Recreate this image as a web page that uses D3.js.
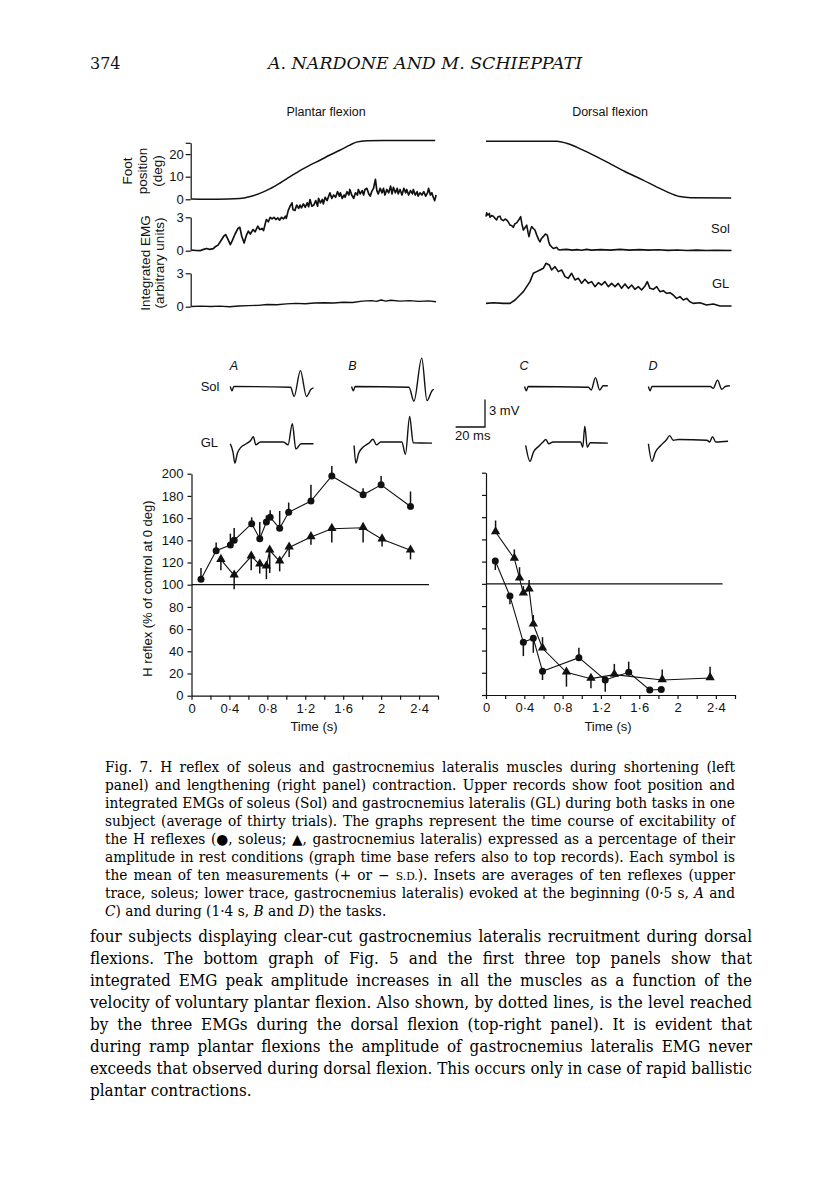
<!DOCTYPE html>
<html><head><meta charset="utf-8">
<script src="https://cdn.jsdelivr.net/npm/d3@7"></script>
<style>body{margin:0;background:#fff}svg{display:block}</style>
</head><body>
<svg id="c" width="816" height="1203"></svg>
<script>
// ---------------- DATA ----------------
const timeTicks = [0,0.2,0.4,0.6,0.8,1.0,1.2,1.4,1.6,1.8,2.0,2.2,2.4,2.6];
const timeTickLabels = {"0":"0","0.4":"0·4","0.8":"0·8","1.2":"1·2","1.6":"1·6","2":"2","2.4":"2·4"};
const hTicks = [0,20,40,60,80,100,120,140,160,180,200];
const posTicks = [0,10,20];
const emgTicks = [0,3];

// top records: [time (s), value]
const footPlantar = [[0,0.15],[0.27,0],[0.51,0.3],[0.62,1.2],[0.72,2.6],[0.83,4.7],[0.93,7.1],[1.04,10],[1.14,12.6],[1.25,15.1],[1.36,17.4],[1.46,19.6],[1.57,21.8],[1.67,24],[1.74,25.3],[1.85,25.9],[2.02,26],[2.57,26]];
const solPlantar = [[0.00,0.05],[0.05,0.02],[0.09,0.0],[0.12,0.1],[0.16,0.2],[0.19,0.12],[0.23,0.18],[0.25,0.35],[0.28,0.5],[0.31,0.9],[0.34,1.3],[0.36,1.45],[0.38,1.1],[0.41,0.55],[0.43,0.9],[0.46,1.5],[0.49,2.0],[0.51,2.1],[0.53,1.3],[0.555,0.7],[0.58,1.4],[0.60,1.75],[0.62,1.5],[0.65,1.9],[0.67,1.7],[0.70,2.2],[0.72,1.9],[0.745,2.0],[0.76,1.8],[0.78,2.5],[0.79,2.8],[0.81,2.6],[0.83,3.0],[0.85,2.85],[0.87,3.0],[0.89,2.8],[0.91,2.95],[0.93,2.75],[0.95,3.0],[0.97,2.85],[0.99,3.1],[1.00,2.9],[1.02,3.6],[1.04,4.0],[1.06,4.3],[1.07,3.7],[1.09,3.6],[1.11,4.1],[1.13,3.8],[1.145,4.1],[1.16,3.85],[1.18,4.2],[1.20,3.9],[1.22,4.3],[1.235,3.95],[1.25,4.6],[1.27,4.0],[1.29,4.1],[1.31,4.5],[1.33,4.0],[1.34,4.7],[1.36,4.3],[1.38,4.6],[1.39,4.2],[1.41,4.8],[1.43,4.5],[1.46,5.2],[1.48,4.7],[1.50,5.0],[1.52,4.8],[1.54,5.3],[1.56,4.9],[1.57,5.2],[1.59,4.7],[1.61,5.0],[1.62,4.8],[1.64,5.3],[1.66,5.0],[1.67,5.5],[1.69,5.0],[1.71,4.7],[1.73,5.2],[1.75,5.0],[1.76,5.5],[1.78,5.1],[1.80,5.4],[1.815,5.0],[1.83,5.5],[1.85,5.6],[1.87,5.1],[1.885,4.9],[1.90,5.3],[1.92,5.6],[1.94,6.4],[1.955,5.4],[1.97,5.1],[1.99,5.6],[2.01,5.2],[2.025,5.6],[2.04,5.0],[2.06,5.5],[2.08,5.2],[2.10,5.8],[2.115,5.1],[2.13,5.7],[2.15,5.2],[2.17,5.6],[2.18,5.1],[2.20,5.5],[2.22,5.0],[2.24,5.6],[2.26,5.2],[2.27,5.5],[2.29,5.0],[2.31,5.4],[2.33,5.1],[2.34,5.5],[2.36,5.0],[2.38,5.3],[2.39,4.9],[2.41,5.2],[2.43,5.0],[2.45,5.3],[2.47,4.9],[2.49,5.2],[2.50,5.6],[2.52,5.0],[2.535,5.2],[2.55,4.8],[2.565,4.5],[2.58,5.0]];
const glPlantar = [[0,0.02],[0.1,0.05],[0.2,0.02],[0.3,0.05],[0.4,0.0],[0.5,0.06],[0.6,0.1],[0.7,0.12],[0.8,0.2],[0.9,0.18],[1.0,0.25],[1.1,0.3],[1.2,0.27],[1.3,0.33],[1.4,0.36],[1.5,0.33],[1.6,0.4],[1.7,0.38],[1.8,0.5],[1.9,0.55],[1.95,0.48],[2.0,0.6],[2.05,0.5],[2.1,0.58],[2.2,0.5],[2.3,0.55],[2.4,0.48],[2.5,0.52],[2.58,0.45]];

const footDorsal = [[0,25.7],[0.74,25.7],[0.84,24.8],[0.95,23],[1.1,20],[1.29,15.9],[1.45,12.3],[1.64,8.5],[1.79,5.3],[1.886,3.4],[2.025,1.2],[2.14,0.7],[2.56,0.6]];
const solDorsal = [[0.0,3.06],[0.007,3.4],[0.02,3.2],[0.035,3.35],[0.042,3.0],[0.06,3.15],[0.077,3.1],[0.09,2.95],[0.111,2.76],[0.125,3.05],[0.146,3.1],[0.16,2.8],[0.181,2.7],[0.2,2.85],[0.216,2.76],[0.235,2.55],[0.251,2.3],[0.27,2.25],[0.285,2.1],[0.30,2.4],[0.32,2.5],[0.345,2.8],[0.362,3.06],[0.375,2.4],[0.39,1.86],[0.41,2.1],[0.425,2.3],[0.44,1.6],[0.449,1.26],[0.465,1.9],[0.477,2.16],[0.495,2.0],[0.511,1.86],[0.53,1.4],[0.55,1.0],[0.564,0.8],[0.58,1.1],[0.598,1.26],[0.62,1.5],[0.64,1.4],[0.655,0.8],[0.668,0.5],[0.685,0.35],[0.703,0.2],[0.72,0.25],[0.738,0.3],[0.755,0.1],[0.772,0.06],[0.80,0.1],[0.842,0.12],[0.9,0.05],[0.95,0.1],[1.0,0.04],[1.05,0.12],[1.1,0.05],[1.2,0.1],[1.3,0.05],[1.4,0.12],[1.5,0.05],[1.6,0.1],[1.7,0.05],[1.8,0.08],[1.9,0.03],[2.0,0.06],[2.1,0.02],[2.2,0.05],[2.3,0.02],[2.4,0.04],[2.564,0.02]];
const glDorsal = [[0,0.3],[0.077,0.36],[0.181,0.3],[0.251,0.3],[0.303,0.6],[0.355,1.05],[0.39,1.35],[0.425,1.8],[0.459,2.25],[0.494,3.0],[0.529,3.15],[0.564,3.3],[0.598,3.45],[0.626,3.9],[0.661,3.75],[0.685,3.3],[0.72,3.6],[0.755,3.15],[0.79,3.3],[0.825,2.7],[0.859,2.55],[0.894,3.0],[0.929,2.4],[0.964,2.55],[0.999,2.1],[1.033,2.46],[1.068,2.1],[1.103,2.25],[1.138,1.8],[1.173,2.16],[1.207,1.95],[1.242,2.25],[1.277,1.8],[1.312,2.1],[1.347,1.8],[1.381,2.1],[1.416,1.65],[1.451,2.04],[1.486,1.65],[1.521,1.95],[1.555,1.56],[1.59,1.8],[1.625,1.5],[1.66,1.86],[1.684,2.25],[1.712,1.65],[1.747,1.56],[1.782,1.8],[1.816,1.35],[1.851,1.44],[1.886,1.2],[1.921,1.26],[1.955,1.05],[1.99,0.75],[2.025,0.9],[2.06,0.6],[2.095,0.75],[2.129,0.45],[2.164,0.3],[2.234,0.36],[2.303,0.15],[2.373,0.24],[2.443,0.06],[2.564,0.06]];

// insets: [ms, mV]
const insetSolA = [[0,0],[1.2,-0.46],[2.4,0],[41,-0.08],[43.4,-1.08],[47.7,1.73],[51.8,-1.08],[54.9,-0.3],[56.6,-0.15]];
const insetSolB = [[0,0],[1.2,-0.46],[2.4,0],[39,-0.08],[42.4,-1.6],[47.7,3.08],[51.3,-1.54],[54.7,-0.46],[55.9,-0.3]];
const insetSolC = [[0,0],[1.2,-0.46],[2.4,0],[43.4,-0.08],[45.3,-0.38],[48.2,0.96],[51.1,-0.38],[53.5,0.08],[56.6,0.08]];
const insetSolD = [[0,0],[1.2,-0.46],[2.4,0],[42.2,0],[44.1,-0.2],[47,0.69],[49.9,-0.3],[52.3,0],[55.4,0.08]];
const insetGLA = [[0,-0.19],[1.9,-1.15],[3.1,-2.3],[4.8,-1.23],[7.2,-0.58],[10.8,-0.19],[14,0.19],[15.7,0.58],[17.3,-0.3],[20.5,0],[36.1,0],[39.3,-0.3],[42.2,2],[44.6,-0.77],[48.2,-0.19],[56.6,-0.19]];
const insetGLB = [[0,-0.38],[1.2,-2.3],[3.1,-1.23],[6,-0.58],[10.4,-0.08],[12.8,0.3],[15.2,-0.3],[18.1,0],[32.5,0],[34.9,-1.35],[37.8,2.77],[40.2,-0.08],[53,-0.12]];
const insetGLC = [[0,-0.38],[2.9,-2.1],[5.3,-1.08],[8.9,-0.46],[11.8,0],[13.7,0.27],[15.7,-0.19],[18.6,0],[37.3,0],[38.8,-0.58],[40.2,1.73],[41.9,-0.58],[43.9,-0.08],[55.9,-0.12]];
const insetGLD = [[0,-0.19],[2.4,-2.1],[4.8,-1.08],[8.4,-0.38],[12,0.19],[14.5,0.69],[16.9,0.19],[20.5,0.27],[39.8,0.19],[41.7,0],[43.6,0.58],[45.8,0],[54.2,0.08]];

// H reflex (% of control at 0 deg); SD signed (+ up, - down)
const solPlantarT = [0.10,0.26,0.41,0.45,0.635,0.72,0.79,0.83,0.93,1.025,1.26,1.48,1.81,2.0,2.31];
const solPlantarH = [105,130.6,135.7,140,155,141.4,156.5,160.7,150.8,165.2,175.4,198,181,190,170.5];
const solPlantarSD = [10,7.4,10.3,11,5.7,15.1,6,6.3,15.6,8.8,14.6,9,6,8,13.5];
const glPlantarT = [0.31,0.45,0.63,0.72,0.79,0.825,0.93,1.03,1.26,1.48,1.81,2.01,2.31];
const glPlantarH = [122.5,108.4,125.5,118.3,116.5,131,121,133.6,143,150.4,151.3,141,131];
const glPlantarSD = [-9.5,-12.6,-12.5,-8.3,-11.5,-20.5,-9,-8.6,-7,-12.4,-13.3,-6.5,-8.2];
const solDorsalT = [0.097,0.25,0.39,0.494,0.59,0.97,1.245,1.49,1.71,1.83];
const solDorsalH = [120.6,89,47.4,51,21.3,33.6,13.5,20.4,4.5,5];
const solDorsalSD = [-8.1,-7.4,-12.4,-13,-7.8,9,-10.5,9.6,0,0];
const glDorsalT = [0.10,0.296,0.35,0.39,0.45,0.494,0.59,0.84,1.096,1.34,1.84,2.34];
const glDorsalH = [146.6,122.7,105,91.5,95,63.6,42,20.4,14.7,18.3,13.5,15.3];
const glDorsalSD = [10.4,8.3,10,6.5,8.5,8.4,10,-12.9,-8.7,9.7,9.5,10.2];
const controlLevel = 100;
const controlEndPlantar = 2.505, controlEndDorsal = 2.47;

const captionLines = [
 "Fig. 7. H reflex of soleus and gastrocnemius lateralis muscles during shortening (left",
 "panel) and lengthening (right panel) contraction. Upper records show foot position and",
 "integrated EMGs of soleus (Sol) and gastrocnemius lateralis (GL) during both tasks in one",
 "subject (average of thirty trials). The graphs represent the time course of excitability of",
 "the H reflexes (●, soleus; ▲, gastrocnemius lateralis) expressed as a percentage of their",
 "amplitude in rest conditions (graph time base refers also to top records). Each symbol is",
 "the mean of ten measurements (+ or − ~S.D.~). Insets are averages of ten reflexes (upper",
 "trace, soleus; lower trace, gastrocnemius lateralis) evoked at the beginning (0·5 s, *A* and",
 "*C*) and during (1·4 s, *B* and *D*) the tasks."
];
const bodyLines = [
 "four subjects displaying clear-cut gastrocnemius lateralis recruitment during dorsal",
 "flexions. The bottom graph of Fig. 5 and the first three top panels show that",
 "integrated EMG peak amplitude increases in all the muscles as a function of the",
 "velocity of voluntary plantar flexion. Also shown, by dotted lines, is the level reached",
 "by the three EMGs during the dorsal flexion (top-right panel). It is evident that",
 "during ramp plantar flexions the amplitude of gastrocnemius lateralis EMG never",
 "exceeds that observed during dorsal flexion. This occurs only in case of rapid ballistic",
 "plantar contractions."
];

// ---------------- DRAW ----------------
const svg = d3.select("#c");
const sans = "'Liberation Sans', Arial, sans-serif";
const serif = "'DejaVu Serif', serif";
const ink = "#111";

svg.append("rect").attr("width",816).attr("height",1203).attr("fill","#fff");

// header
svg.append("text").attr("x",90).attr("y",69).attr("font-family",serif).attr("font-size",16).attr("fill",ink).text("374");
svg.append("text").attr("x",425).attr("y",69).attr("text-anchor","middle").attr("font-family",serif)
  .attr("font-style","italic").attr("font-size",16).attr("fill",ink)
  .attr("textLength",314).attr("lengthAdjust","spacingAndGlyphs").text("A. NARDONE AND M. SCHIEPPATI");

function label(x,y,t,opts={}){
  const e = svg.append("text").attr("x",x).attr("y",y).attr("font-family",sans)
    .attr("font-size",opts.size||12.5).attr("fill",ink).attr("text-anchor",opts.anchor||"middle").text(t);
  if(opts.italic) e.attr("font-style","italic");
  if(opts.rotate) e.attr("transform",`rotate(-90,${x},${y})`);
  return e;
}
label(326,116,"Plantar flexion");
label(610,116,"Dorsal flexion");

// scales
const xPL = d3.scaleLinear().domain([0,2.6]).range([191.5,438]);
const xDR = d3.scaleLinear().domain([0,2.6]).range([486,735]);
const yPos = d3.scaleLinear().domain([0,25]).range([199.3,142.8]);
const ySolT = d3.scaleLinear().domain([0,3]).range([250.7,217.3]);
const yGLT = d3.scaleLinear().domain([0,3]).range([306.7,273.3]);
const yHL = d3.scaleLinear().domain([0,200]).range([695.7,473.7]);
const yHR = d3.scaleLinear().domain([0,200]).range([695,472.7]);

function styleAxis(g,size){
  g.selectAll("path,line").attr("stroke",ink).attr("stroke-width",1.2);
  g.selectAll("text").attr("font-family",sans).attr("font-size",size||12.5).attr("fill",ink);
}

// top-left axes
svg.append("g").attr("transform","translate(190.7,0)")
  .call(d3.axisLeft(yPos).tickValues([...posTicks,25]).tickFormat(d=>posTicks.includes(d)?d:"").tickSize(5).tickSizeOuter(0).tickPadding(2))
  .call(g=>styleAxis(g,13));
svg.append("g").attr("transform","translate(190.7,0)")
  .call(d3.axisLeft(ySolT).tickValues(emgTicks).tickFormat(d3.format("d")).tickSize(5).tickSizeOuter(0).tickPadding(2)).call(g=>styleAxis(g,13));
svg.append("g").attr("transform","translate(190.7,0)")
  .call(d3.axisLeft(yGLT).tickValues(emgTicks).tickFormat(d3.format("d")).tickSize(5).tickSizeOuter(0).tickPadding(2)).call(g=>styleAxis(g,13));

label(132,171,"Foot",{rotate:true,size:13.5});
label(147,171,"position",{rotate:true,size:13.5});
label(161.5,171,"(deg)",{rotate:true,size:13.5});
label(150,263,"Integrated EMG",{rotate:true,size:13.5});
label(164,263,"(arbitrary units)",{rotate:true,size:13.5});

function trace(data,x,y,w,curve){
  svg.append("path").datum(data)
    .attr("d",d3.line().x(d=>x(d[0])).y(d=>y(d[1])).curve(curve||d3.curveLinear))
    .attr("fill","none").attr("stroke",ink).attr("stroke-width",w).attr("stroke-linejoin","round");
}
trace(footPlantar,xPL,yPos,1.5,d3.curveMonotoneX);
trace(solPlantar,xPL,ySolT,1.7);
trace(glPlantar,xPL,yGLT,1.4);
trace(footDorsal,xDR,yPos,1.5,d3.curveMonotoneX);
trace(solDorsal,xDR,ySolT,1.6);
trace(glDorsal,xDR,yGLT,1.6);
label(711,233,"Sol",{anchor:"start",size:13});
label(712,288,"GL",{anchor:"start",size:13});

// insets
const msPx = 1.47, mvPx = 9.2;
const solBase = 386.5, glBase = 442;
const insets = [
  {lab:"A", lx:233.8, sol:insetSolA, sx:230.3, gl:insetGLA, gx:230.3},
  {lab:"B", lx:352.3, sol:insetSolB, sx:351.6, gl:insetGLB, gx:354.1},
  {lab:"C", lx:523.9, sol:insetSolC, sx:524.6, gl:insetGLC, gx:525.7},
  {lab:"D", lx:653.1, sol:insetSolD, sx:648.4, gl:insetGLD, gx:648.4}
];
insets.forEach(ins=>{
  label(ins.lx,369.5,ins.lab,{italic:true,size:12.5});
  const xs = d3.scaleLinear().domain([0,1]).range([ins.sx, ins.sx+msPx]);
  const ys = d3.scaleLinear().domain([0,1]).range([solBase, solBase-mvPx]);
  trace(ins.sol,xs,ys,1.4,d3.curveMonotoneX);
  const xg = d3.scaleLinear().domain([0,1]).range([ins.gx, ins.gx+msPx]);
  const yg = d3.scaleLinear().domain([0,1]).range([glBase, glBase-mvPx]);
  trace(ins.gl,xg,yg,1.4,d3.curveMonotoneX);
});
label(219.5,391,"Sol",{anchor:"end",size:13});
label(218,447,"GL",{anchor:"end",size:13});
// scale bar (20 ms, 3 mV)
const sbX = d3.scaleLinear().domain([0,20]).range([455.6,455.6+20*msPx]);
const sbY = d3.scaleLinear().domain([0,3]).range([427,427-3*mvPx]);
svg.append("path").attr("d",`M${sbX(0)},${sbY(0)}H${sbX(20)}V${sbY(3)}`).attr("fill","none").attr("stroke",ink).attr("stroke-width",1.3);
label(489,415,"3 mV",{anchor:"start",size:13});
label(455,440,"20 ms",{anchor:"start",size:13});

// H reflex charts
function hChart(x,y,showLabels,solT,solH,solSD,glT,glH,glSD,refEnd){
  const ax = svg.append("g").attr("transform",`translate(${x(0)},0)`)
    .call(d3.axisLeft(y).tickValues(hTicks).tickFormat(showLabels?d3.format("d"):"").tickSize(4).tickSizeOuter(0).tickPadding(4));
  styleAxis(ax,13);
  const bx = svg.append("g").attr("transform",`translate(0,${y(0)})`)
    .call(d3.axisBottom(x).tickValues(timeTicks).tickFormat(d=>timeTickLabels[String(+d.toFixed(1))]||"").tickSize(4).tickSizeOuter(0).tickPadding(4));
  styleAxis(bx,13);
  svg.append("line").attr("x1",x(0)).attr("x2",x(refEnd)).attr("y1",y(controlLevel)).attr("y2",y(controlLevel))
    .attr("stroke",ink).attr("stroke-width",1.2);
  const line = d3.line().x(d=>x(d[0])).y(d=>y(d[1]));
  const sol = solT.map((t,i)=>[t,solH[i],solSD[i]]);
  const gl = glT.map((t,i)=>[t,glH[i],glSD[i]]);
  [sol,gl].forEach(s=>{
    svg.append("path").datum(s).attr("d",line).attr("fill","none").attr("stroke",ink).attr("stroke-width",1.1);
    s.forEach(d=>{ if(d[2]) svg.append("line").attr("x1",x(d[0])).attr("x2",x(d[0]))
      .attr("y1",y(d[1])).attr("y2",y(d[1]+d[2])).attr("stroke",ink).attr("stroke-width",1.5); });
  });
  sol.forEach(d=>svg.append("circle").attr("cx",x(d[0])).attr("cy",y(d[1])).attr("r",3.5).attr("fill",ink));
  const tri = d3.symbol().type(d3.symbolTriangle).size(38);
  gl.forEach(d=>svg.append("path").attr("d",tri()).attr("transform",`translate(${x(d[0])},${y(d[1])-0.5})`).attr("fill",ink));
}
hChart(xPL,yHL,true,solPlantarT,solPlantarH,solPlantarSD,glPlantarT,glPlantarH,glPlantarSD,controlEndPlantar);
hChart(xDR,yHR,false,solDorsalT,solDorsalH,solDorsalSD,glDorsalT,glDorsalH,glDorsalSD,controlEndDorsal);
label(152,588.5,"H reflex (% of control at 0 deg)",{rotate:true,size:13});
label(314,731,"Time (s)",{size:13});
label(608,731,"Time (s)",{size:13});

// text blocks
function textBlock(lines,x0,y0,pitch,width,size){
  const g = svg.append("g").attr("font-family",serif).attr("font-size",size).attr("fill","#000");
  const inner = g.append("g");
  const probe = inner.append("text").text("a a");
  const probe2 = inner.append("text").text("aa");
  const sp = probe.node().getComputedTextLength()-probe2.node().getComputedTextLength();
  probe.remove(); probe2.remove();
  const rows = lines.map((ln,i)=>ln.split(" ").map(w=>{
    const t = inner.append("text").attr("y",y0+i*pitch);
    w.split(/(\*[^*]+\*|~[^~]+~)/).filter(s=>s).forEach(s=>{
      if(s[0]==="*") t.append("tspan").attr("font-style","italic").text(s.slice(1,-1));
      else if(s[0]==="~") t.append("tspan").attr("font-size",size*0.78).text(s.slice(1,-1));
      else t.append("tspan").text(s);
    });
    return {t, w:t.node().getComputedTextLength()};
  }));
  const last = lines.length-1;
  let maxL = 0;
  rows.forEach((r,i)=>{ if(i<last) maxL = Math.max(maxL, d3.sum(r,d=>d.w)+(r.length-1)*sp); });
  const f = width/maxL;
  inner.attr("transform",`translate(${x0},0) scale(${f},1)`);
  const Wp = width/f;
  rows.forEach((r,i)=>{
    const sum = d3.sum(r,d=>d.w);
    const gap = i<last ? (Wp-sum)/(r.length-1) : sp;
    let xx = 0; r.forEach(d=>{ d.t.attr("x",xx); xx += d.w+gap; });
  });
}
textBlock(captionLines,105,772,18,630,14);
textBlock(bodyLines,90,942,22,662,16.5);
</script>
</body></html>
